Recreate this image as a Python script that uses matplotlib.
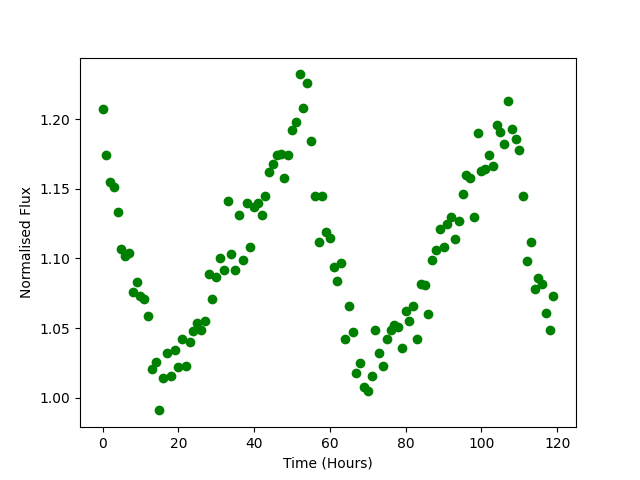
import matplotlib
matplotlib.use('Agg')
import matplotlib.pyplot as plt

time = list(range(120))
flux = [
    1.207, 1.174, 1.155, 1.151, 1.133, 1.107, 1.102, 1.104, 1.076, 1.083,
    1.073, 1.071, 1.059, 1.021, 1.026, 0.991, 1.014, 1.032, 1.016, 1.034,
    1.022, 1.042, 1.023, 1.040, 1.048, 1.054, 1.049, 1.055, 1.089, 1.071,
    1.087, 1.100, 1.092, 1.141, 1.103, 1.092, 1.131, 1.099, 1.140, 1.108,
    1.137, 1.140, 1.131, 1.145, 1.162, 1.168, 1.174, 1.175, 1.158, 1.174,
    1.192, 1.198, 1.232, 1.208, 1.226, 1.184, 1.145, 1.112, 1.145, 1.119,
    1.115, 1.094, 1.084, 1.097, 1.042, 1.066, 1.047, 1.018, 1.025, 1.008,
    1.005, 1.016, 1.049, 1.032, 1.023, 1.042, 1.049, 1.052, 1.051, 1.036,
    1.062, 1.055, 1.066, 1.042, 1.082, 1.081, 1.060, 1.099, 1.106, 1.121,
    1.108, 1.125, 1.130, 1.114, 1.127, 1.146, 1.160, 1.158, 1.130, 1.190,
    1.163, 1.164, 1.174, 1.166, 1.196, 1.191, 1.182, 1.213, 1.193, 1.186,
    1.178, 1.145, 1.098, 1.112, 1.078, 1.086, 1.082, 1.061, 1.049, 1.073,
]

plt.figure(figsize=(6.4, 4.8), dpi=100)
plt.plot(time, flux, 'go')
plt.xlabel('Time (Hours)')
plt.ylabel('Normalised Flux')
plt.savefig('out.png')
